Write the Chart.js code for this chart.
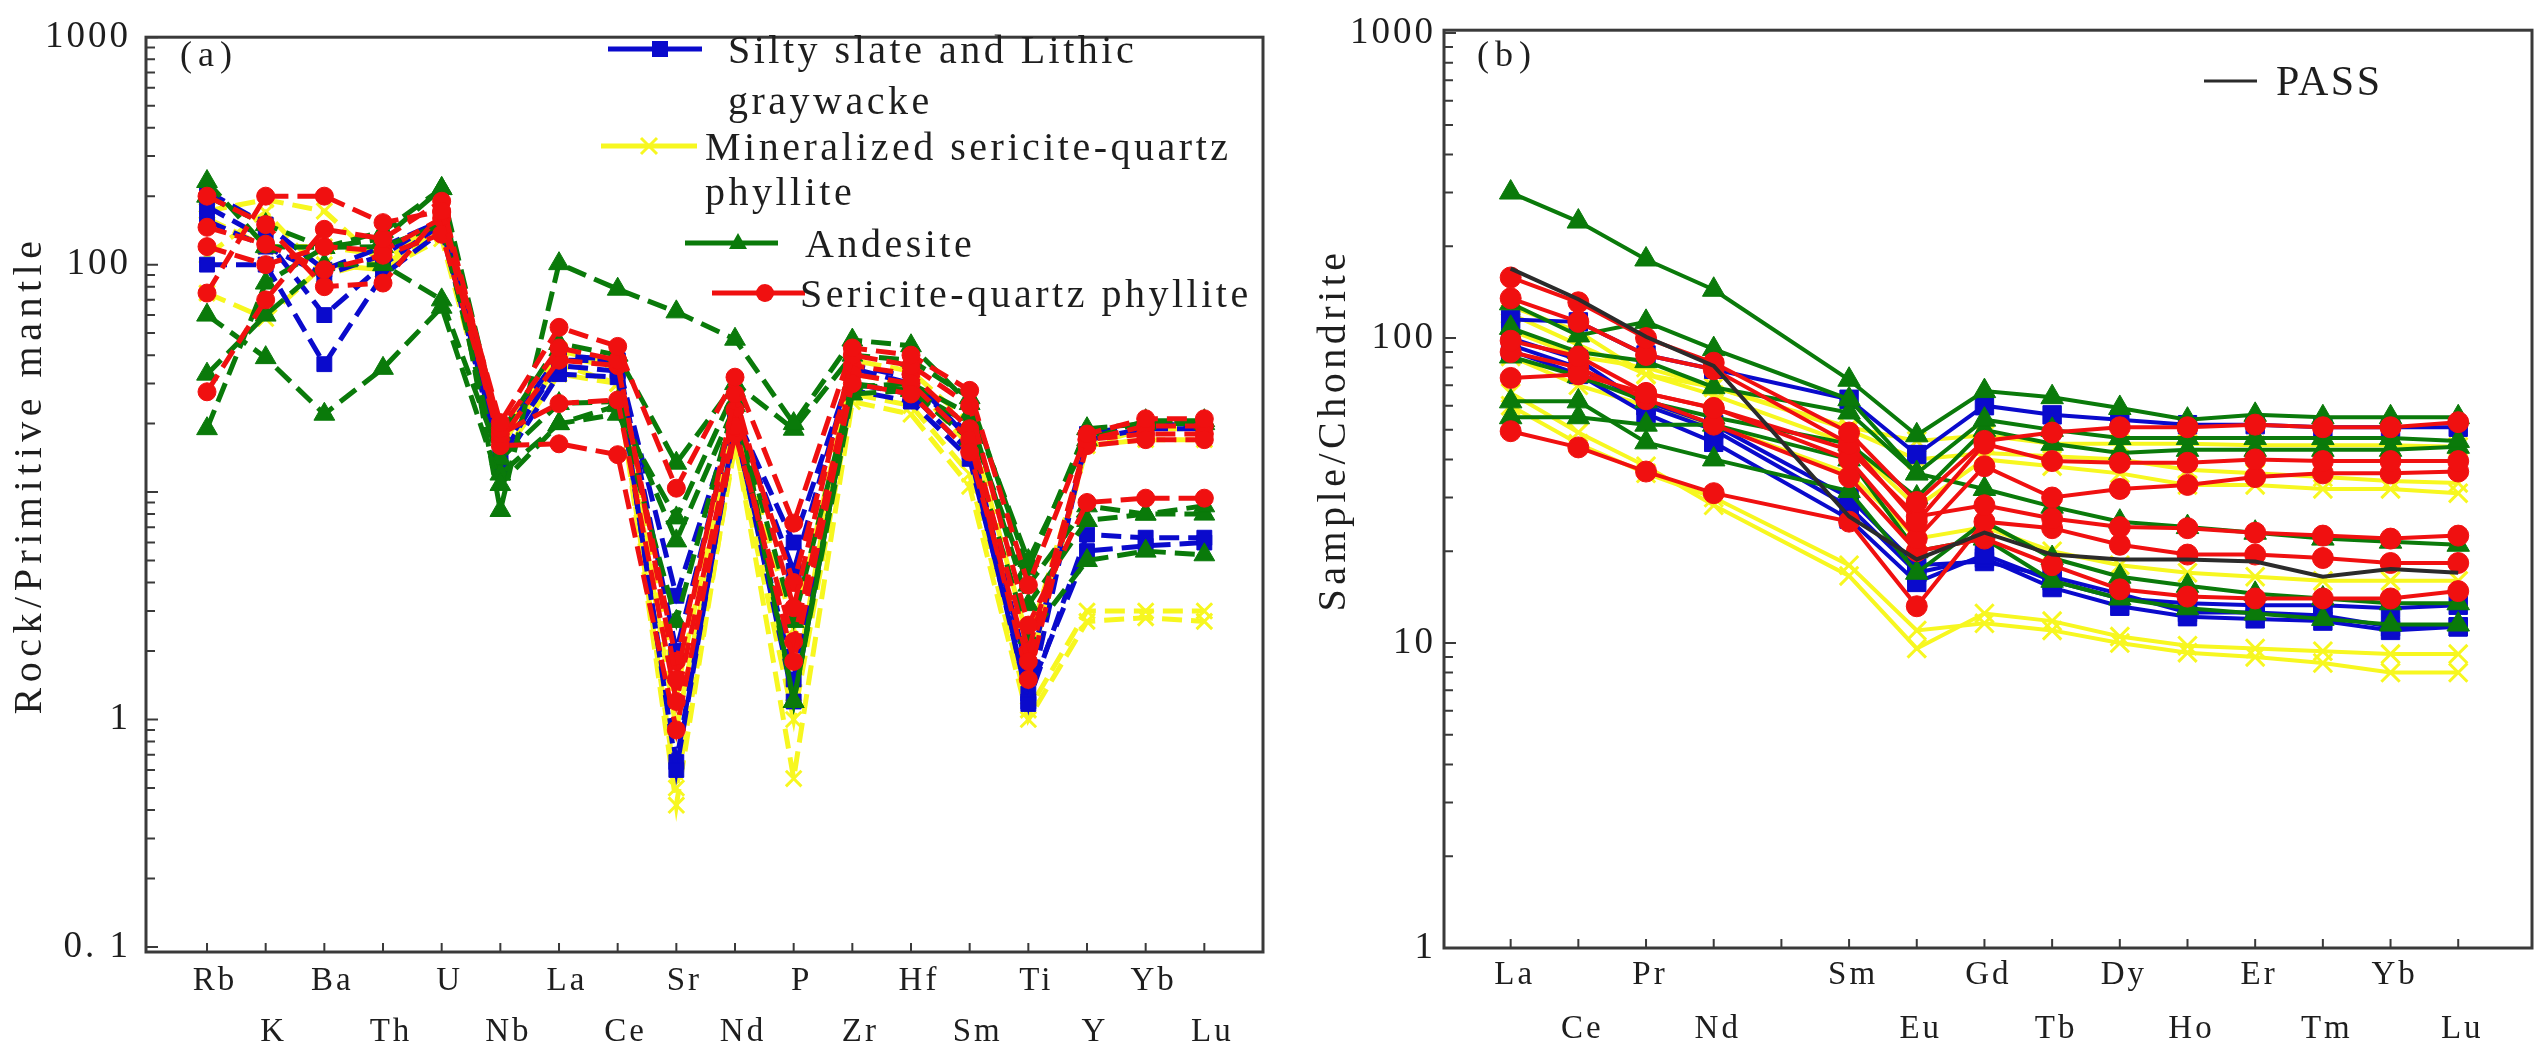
<!DOCTYPE html>
<html>
<head>
<meta charset="utf-8">
<script src="https://cdn.jsdelivr.net/npm/chart.js@4.4.0/dist/chart.umd.min.js"></script>
<style>
html,body{margin:0;padding:0;background:#fff;}
#wrap{position:relative;width:2548px;height:1061px;overflow:hidden;background:#fff;}
.box{position:absolute;top:0;height:1061px;}
#boxA{left:0;width:1290px;}
#boxB{left:1290px;width:1258px;}
svg.over{position:absolute;left:0;top:0;pointer-events:none;}
svg text{font-family:'Liberation Serif','Tinos','DejaVu Serif','Noto Serif',serif;fill:#1e1e1e;}
</style>
</head>
<body>
<div id="wrap">
  <div class="box" id="boxA"><canvas id="chartA" width="1290" height="1061" style="width:1290px;height:1061px"></canvas></div>
  <div class="box" id="boxB"><canvas id="chartB" width="1258" height="1061" style="width:1258px;height:1061px"></canvas></div>
  <svg class="over" width="2548" height="1061">
    <text x="180" y="54" font-size="36" letter-spacing="6" dominant-baseline="central">(a)</text>
    <text x="1477" y="54" font-size="36" letter-spacing="6" dominant-baseline="central">(b)</text>
    <text transform="translate(27,475) rotate(-90)" font-size="40" letter-spacing="5.5" text-anchor="middle" dominant-baseline="central">Rock/Primitive mantle</text>
    <text transform="translate(1331,430) rotate(-90)" font-size="40" letter-spacing="4.5" text-anchor="middle" dominant-baseline="central">Sample/Chondrite</text>

    <!-- legend (a) -->
    <line x1="608" y1="49" x2="702" y2="49" stroke="#0a0acc" stroke-width="5"/>
    <rect x="652" y="41" width="16" height="16" fill="#0a0acc"/>
    <text x="728" y="49" font-size="40" letter-spacing="3.5" dominant-baseline="central">Silty slate and Lithic</text>
    <text x="728" y="100" font-size="40" letter-spacing="3.5" dominant-baseline="central">graywacke</text>

    <line x1="601" y1="146" x2="697" y2="146" stroke="#f7f720" stroke-width="5"/>
    <path d="M641 138 L657 154 M657 138 L641 154" stroke="#f7f720" stroke-width="3"/>
    <text x="705" y="146" font-size="40" letter-spacing="3.5" dominant-baseline="central">Mineralized sericite-quartz</text>
    <text x="705" y="191" font-size="40" letter-spacing="3.5" dominant-baseline="central">phyllite</text>

    <line x1="685" y1="243" x2="778" y2="243" stroke="#0a7a0a" stroke-width="5"/>
    <path d="M738 233 L747 249 L729 249 Z" fill="#0a7a0a"/>
    <text x="805" y="243" font-size="40" letter-spacing="3.5" dominant-baseline="central">Andesite</text>

    <line x1="712" y1="293" x2="805" y2="293" stroke="#f01010" stroke-width="5"/>
    <circle cx="765" cy="293" r="9" fill="#f01010"/>
    <text x="800" y="293" font-size="40" letter-spacing="3.5" dominant-baseline="central">Sericite-quartz phyllite</text>

    <!-- legend (b) -->
    <line x1="2204" y1="81" x2="2257" y2="81" stroke="#2b2b2b" stroke-width="3"/>
    <text x="2276" y="81" font-size="42" letter-spacing="2.5" dominant-baseline="central">PASS</text>
  </svg>
</div>
<script>
// ---- (a) primitive-mantle normalised spider diagram ----
const pmElements = ['Rb','K','Ba','Th','U','Nb','La','Ce','Sr','Nd','P','Zr','Hf','Sm','Ti','Y','Yb','Lu'];
const pmTickValues = [1000, 100, 1, 0.1];

const siltyPM = [
  [210,150,95,120,156,14,38,37.7,3.5,22,6,35,30,18,1.17,18,20,19.5],
  [100,100,36.5,90,140,15,36,34,0.6,20,1.2,30,27,15,1.2,6.5,6.3,6.3],
  [180,130,60,100,150,13,33,32,0.65,19,1.5,28,25,14,1.3,5.5,5.8,6],
  [156,120,90,110,160,17,40,38,2,22,4.5,36,32,17,1.6,17,19,19]
];
const mineralizedPM = [
  [172,193,172,100,140,16,36.5,30,0.42,17,0.55,25,22,10.6,1.0,2.7,2.8,2.7],
  [75,58,100,95,130,14,33,30,0.5,16,1.0,27,24,12,1.1,3.0,3.0,3.0],
  [160,120,120,110,150,17,42,36,1.3,21,2.5,33,30,16,1.6,16,17,17],
  [110,170,90,105,145,16,40,35,0.9,19,1.3,38,34,20,2.2,16,19,19]
];
const andesitePM = [
  [232,120,119,140,216,8.3,101,78,62,47,20,46.6,44,24.5,5,17,20.6,20.6],
  [60,39,22,35,65,10.8,20,22,7.7,28,1.2,27,28,20,3.9,8.7,8.0,8.7],
  [33,60,100,100,70,14,24.5,25,6.1,24,2.7,29,30,22,3.2,7.5,8,8],
  [19,83,119,120,150,12,20,24,2.7,25,1.2,30,28,17,2.3,5,5.5,5.3],
  [200,150,119,130,216,18,45,40,13.4,30,18.9,40,38,26,4.6,19,20,20]
];
const sericitePM = [
  [75,200,200,153,172,20.2,53,43.7,10.4,32,7.3,43,40,28,3.9,18,21,21],
  [27.6,70,143,130,190,19,43,38,1.5,27,3.1,40,36,24,2.6,9,9.4,9.4],
  [146,123,95,110,136,18,24.5,25.4,1.2,19.5,1.8,30,27,15,1.8,16,17,17],
  [200,150,80,83,170,16,16.3,14.6,0.9,18,2.2,33,30,17,1.5,17,18,18],
  [120,100,120,115,160,17,38,36,1.8,23,4,36,33,19,2,17,19.5,19.5]
];

// ---- (b) chondrite normalised REE pattern (slot 4 = Pm, no data) ----
const reeElements = ['La','Ce','Pr','Nd','Sm','Eu','Gd','Tb','Dy','Ho','Er','Tm','Yb','Lu'];
const reeSlots = [0,1,2,3,5,6,7,8,9,10,11,12,13,14];
const reeTickSlots = [0,1,2,3,4,5,6,7,8,9,10,11,12,13,14];
const reeTickValues = [1000, 100, 10, 1];

const passREE = [169,134,101,81,26,18.8,23,19.5,18.8,18.8,18.5,16.5,17.5,17];
const siltyREE = [
  [115,113,88,79,63,41.5,60,56,54,52,52,51,51,51],
  [91,76,56.5,45.5,25.5,15.8,19.5,16,14,13.5,13.3,13.3,13,13.3],
  [100,85,60,50,28,17,19,15.2,13.2,12.2,12,11.8,11,11.3],
  [95,80,62,52,30,18,18.5,16.5,14.5,12.6,12.6,12.3,11.3,11.3]
];
const mineralizedREE = [
  [127,105,76,69,51,46,48,45,45,45,44.5,44.5,44.5,44],
  [106,87,80,69,50,40,42,41,40,37,36,35,34,33.5],
  [66,49,38,28.3,16.6,9.6,12.5,11.8,10.5,9.8,9.6,9.4,9.2,9.2],
  [60,45,36,30,18,11,11.6,11,10,9.3,9,8.6,8,8],
  [87,70,60,52,36,22,24,20,18,17,16.5,16,16,16],
  [120,95,76,65,45,28,40,38,36,33,33,32,32,31]
];
const andesiteREE = [
  [300,241,181,144,73,48,67,64,59,54,56,55,55,55],
  [130,102,113,92,63,36,54,50,47,47,47,47,47,46],
  [108,90,84,69,57,36,32,28,25,24,23,22,21.5,21],
  [62,62,45.5,40,31.5,17,25,19,16.5,15.4,14.5,14,13.5,13.5],
  [55,55,52,52,40,20,22,16,14,13,12.5,12,11.5,11.5],
  [87,75,62,55,45,30,50,45,42,43,43,43,43,44]
];
const sericiteREE = [
  [158,131,100,83,49,29,46,49,51,51,52,51,51,53],
  [135,113,88,79,45,25,45,39.5,39,39,40,39.5,39.5,39.5],
  [98,87,66,59,40,22,38,30,32,33,35,36,36,36.5],
  [74,76,66,58.8,43,26,28.3,25.6,24,23.8,23,22.5,22,22.5],
  [49.5,43.8,36.5,31,25,13.2,25,23.8,21,19.5,19.5,19,18.3,18.3],
  [90,80,63,52,35,20,22,18,15,14.2,14,14,14,14.8]
];

const BLUE = '#0a0acc', YELLOW = '#f7f720', GREEN = '#0a7a0a', RED = '#f01010', BLACK = '#2b2b2b';
const SERIF = "'Liberation Serif', 'Tinos', 'DejaVu Serif', 'Noto Serif', serif";

function makeSets(rows, slots, color, point, radius, line) {
  return rows.map(r => ({
    data: r.map((v, i) => ({x: slots[i], y: v})),
    borderColor: color,
    backgroundColor: color,
    pointStyle: point,
    pointRadius: radius,
    pointBorderWidth: point === 'crossRot' ? 3 : 1,
    pointBorderColor: color,
    pointBackgroundColor: color,
    borderWidth: line.width,
    borderDash: line.dash,
    tension: 0,
    fill: false
  }));
}

// box round the plot area, inward ticks on the x axis and log minor ticks on y
function framePlugin(xTicks) {
  return {
    id: 'frame',
    beforeDraw(chart) { chart.ctx.letterSpacing = '3px'; },
    afterDraw(chart) {
      const {ctx, chartArea: a, scales} = chart;
      ctx.save();
      ctx.letterSpacing = '0px';
      ctx.strokeStyle = '#3a3a3a';
      ctx.lineWidth = 2;
      ctx.beginPath();
      xTicks.forEach(v => {
        const x = scales.x.getPixelForValue(v);
        ctx.moveTo(x, a.bottom); ctx.lineTo(x, a.bottom - 9);
      });
      for (let d = 0.01; d <= 1000; d *= 10) {
        for (let m = 1; m < 10; m++) {
          const v = d * m;
          if (v < scales.y.min || v > scales.y.max * 1.0001) continue;
          const y = scales.y.getPixelForValue(v);
          ctx.moveTo(a.left, y); ctx.lineTo(a.left + (m === 1 ? 12 : 9), y);
        }
      }
      ctx.stroke();
      ctx.lineWidth = 3;
      ctx.strokeRect(a.left, a.top, a.right - a.left, a.bottom - a.top);
      ctx.restore();
    }
  };
}

function options(cfg) {
  return {
    responsive: false,
    devicePixelRatio: 1,
    animation: false,
    events: [],
    layout: {padding: {top: cfg.top, right: cfg.right, left: 0, bottom: 0}},
    plugins: {legend: {display: false}, tooltip: {enabled: false}},
    scales: {
      x: {
        type: 'linear', min: cfg.xmin, max: cfg.xmax,
        grid: {display: false, drawTicks: false}, border: {display: false},
        afterBuildTicks: s => { s.ticks = cfg.xTicks.map(v => ({value: v})); },
        afterFit: s => { s.height = cfg.xHeight; },
        ticks: {
          autoSkip: false, maxRotation: 0, minRotation: 0,
          padding: cfg.xPad, labelOffset: cfg.labelOffset, color: '#1e1e1e',
          font: {family: SERIF, size: 33, lineHeight: cfg.xLine},
          callback: v => {
            // alternate the element names between two rows
            const idx = cfg.xSlots.indexOf(v);
            if (idx < 0) return '';
            const name = cfg.xNames[idx];
            return idx % 2 === 0 ? [name, ''] : ['', name];
          }
        }
      },
      y: {
        type: 'logarithmic', min: cfg.ymin, max: cfg.ymax,
        grid: {display: false, drawTicks: false}, border: {display: false},
        afterBuildTicks: s => { s.ticks = cfg.yTicks.map(v => ({value: v})); },
        afterFit: s => { s.width = cfg.yWidth; },
        ticks: {
          autoSkip: false, padding: cfg.yPad, color: '#1e1e1e',
          font: {family: SERIF, size: 37},
          callback: v => (v === 0.1 ? '0. 1' : String(v))
        }
      }
    }
  };
}

const pmSlots = pmElements.map((_, i) => i);
const dashed = {width: 5, dash: [20, 9]};
const solid = {width: 4, dash: []};

new Chart(document.getElementById('chartA'), {
  type: 'line',
  data: {
    datasets: [
      ...makeSets(sericitePM, pmSlots, RED, 'circle', 9, dashed),
      ...makeSets(andesitePM, pmSlots, GREEN, 'triangle', 12, dashed),
      ...makeSets(siltyPM, pmSlots, BLUE, 'rect', 10.5, dashed),
      ...makeSets(mineralizedPM, pmSlots, YELLOW, 'crossRot', 11, dashed)
    ]
  },
  options: options({
    top: 14, right: 27, xmin: -1.04, xmax: 18,
    xTicks: pmSlots, xSlots: pmSlots, xNames: pmElements,
    xHeight: 109, xPad: 4, xLine: 1.55, labelOffset: 8,
    ymin: 0.095, ymax: 1000, yTicks: pmTickValues, yWidth: 146, yPad: 15
  }),
  plugins: [framePlugin(pmSlots)]
});

new Chart(document.getElementById('chartB'), {
  type: 'line',
  data: {
    datasets: [
      {
        data: passREE.map((v, i) => ({x: reeSlots[i], y: v})),
        borderColor: BLACK, borderWidth: 4, pointRadius: 0, tension: 0, fill: false
      },
      ...makeSets(sericiteREE, reeSlots, RED, 'circle', 10.5, solid),
      ...makeSets(andesiteREE, reeSlots, GREEN, 'triangle', 13, solid),
      ...makeSets(siltyREE, reeSlots, BLUE, 'rect', 13, solid),
      ...makeSets(mineralizedREE, reeSlots, YELLOW, 'crossRot', 13, solid)
    ]
  },
  options: options({
    top: 12, right: 11, xmin: -0.985, xmax: 15.09,
    xTicks: reeTickSlots, xSlots: reeSlots, xNames: reeElements,
    xHeight: 113, xPad: 1, xLine: 1.62, labelOffset: 4,
    ymin: 1, ymax: 1022, yTicks: reeTickValues, yWidth: 154, yPad: 8
  }),
  plugins: [framePlugin(reeTickSlots)]
});
</script>
</body>
</html>
